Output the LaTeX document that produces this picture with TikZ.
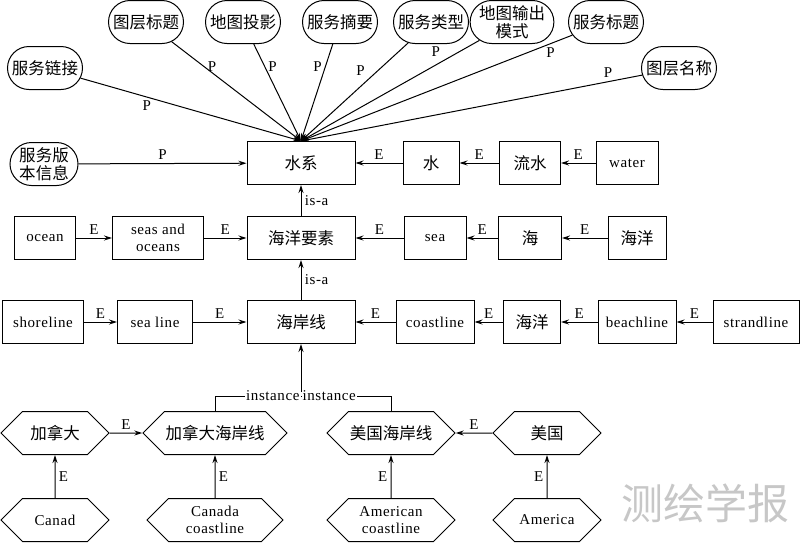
\documentclass[tikz,border=0pt]{standalone}
\usepackage{fontspec}
\setmainfont[LetterSpace=4]{Liberation Serif}
\newfontfamily\cjk{Noto Sans CJK SC}
\usetikzlibrary{shapes.misc,shapes.symbols,arrows.meta}
\begin{document}
\begin{tikzpicture}[>={Stealth[length=8pt,width=5pt]},x=1pt,y=-1pt,line width=1pt,font=\fontsize{15}{17}\selectfont,
	box/.style={draw,minimum height=43pt,inner sep=1pt,align=center},
	zh/.style={font=\cjk\fontsize{16.5}{18}\selectfont},
	oval/.style={draw,rounded rectangle,minimum width=77pt,minimum height=43pt,inner sep=1pt,align=center,zh},
	hexa/.style={draw,signal,signal to=west and east,minimum height=43pt,inner sep=1pt,align=center}]
			\useasboundingbox (0,0) rectangle (800,542);
			% properties of the water system
			\node[oval] (tcbt) at (146,22) {图层标题};
			\node[oval] (dtty) at (243,22) {地图投影};
			\node[oval] (fwzy) at (340,22) {服务摘要};
			\node[oval] (fwlx) at (431,22) {服务类型};
			\node[oval,minimum width=73pt] (dtsc) at (512,22) {地图输出\\模式};
			\node[oval] (fwbt) at (606,22) {服务标题};
			\node[oval] (tcmc) at (679,68) {图层名称};
			\node[oval] (fwlj) at (45,68) {服务链接};
			\node[oval,minimum width=70pt] (fwbb) at (44,164) {服务版\\本信息};
			% rows of concepts
			\node[box,zh,minimum width=108pt] (sx) at (301,163) {水系};
			\node[box,zh,minimum width=56pt] (shui) at (431,163) {水};
			\node[box,zh,minimum width=61pt] (lsh) at (530,163) {流水};
			\node[box,minimum width=62pt] (water) at (627,163) {water};
			\node[box,minimum width=61pt] (ocean) at (45,238) {ocean};
			\node[box,minimum width=91pt] (seas) at (158,238) {seas and\\oceans};
			\node[box,zh,minimum width=108pt] (hyys) at (301,238) {海洋要素};
			\node[box,minimum width=62pt] (sea) at (435,238) {sea};
			\node[box,zh,minimum width=63pt] (hai) at (530,238) {海};
			\node[box,zh,minimum width=58pt] (hy) at (637,238) {海洋};
			\node[box,minimum width=81pt] (shore) at (43,322) {shoreline};
			\node[box,minimum width=75pt] (sline) at (155,322) {sea line};
			\node[box,zh,minimum width=108pt] (haxx) at (301,322) {海岸线};
			\node[box,minimum width=78pt] (coast) at (435,322) {coastline};
			\node[box,zh,minimum width=57pt] (hyb) at (532,322) {海洋};
			\node[box,minimum width=78pt] (beach) at (637,322) {beachline};
			\node[box,minimum width=86pt] (strand) at (756,322) {strandline};
			% instances
			\node[hexa,zh,minimum width=108pt] (jnd) at (55,433) {加拿大};
			\node[hexa,zh,minimum width=136pt] (jhax) at (215,433) {加拿大海岸线};
			\node[hexa,zh,minimum width=128pt] (mhax) at (391,433) {美国海岸线};
			\node[hexa,zh,minimum width=108pt] (mg) at (547,433) {美国};
			\node[hexa,minimum width=108pt] (canad) at (55,520) {Canad};
			\node[hexa,minimum width=136pt] (ccoast) at (215,520) {Canada\\coastline};
			\node[hexa,minimum width=128pt] (acoast) at (391,520) {American\\coastline};
			\node[hexa,minimum width=108pt] (amer) at (547,520) {America};
			\coordinate (jn) at (301,396);
			% P links
			\draw[->] (tcbt) -- node[pos=0.25,right]{P} (sx.north);
			\draw[->] (dtty) -- node[pos=0.23,right]{P} (sx.north);
			\draw[->] (fwzy) -- node[pos=0.23,left]{P} (sx.north);
			\draw[->] (fwlx) -- node[pos=0.37,above left]{P} (sx.north);
			\draw[->] (dtsc) -- node[pos=0.2,above left]{P} (sx.north);
			\draw[->] (fwbt) -- node[pos=0.08,below]{P} (sx.north);
			\draw[->] (tcmc) -- node[pos=0.1,above]{P} (sx.north);
			\draw[->] (fwlj) -- node[pos=0.3,below]{P} (sx.north);
			\draw[->] (fwbb) -- node[above]{P} (sx);
			% E links
			\draw[->] (shui) -- node[above]{E} (sx);
			\draw[->] (lsh) -- node[above]{E} (shui);
			\draw[->] (water) -- node[above]{E} (lsh);
			\draw[->] (ocean) -- node[above]{E} (seas);
			\draw[->] (seas) -- node[above]{E} (hyys);
			\draw[->] (sea) -- node[above]{E} (hyys);
			\draw[->] (hai) -- node[above]{E} (sea);
			\draw[->] (hy) -- node[above]{E} (hai);
			\draw[->] (shore) -- node[above]{E} (sline);
			\draw[->] (sline) -- node[above]{E} (haxx);
			\draw[->] (coast) -- node[above]{E} (haxx);
			\draw[->] (hyb) -- node[above]{E} (coast);
			\draw[->] (beach) -- node[above]{E} (hyb);
			\draw[->] (strand) -- node[above]{E} (beach);
			\draw[->] (hyys) -- node[right]{is-a} (sx);
			\draw[->] (haxx) -- node[right]{is-a} (hyys);
			\draw (jhax.north) |- node[pos=1,left,fill=white,inner sep=1pt]{instance} (jn);
			\draw (mhax.north) |- node[pos=1,right,fill=white,inner sep=1pt]{instance} (jn);
			\draw[->] ([yshift=4pt]jn) -- (haxx);
			\draw[->] (jnd) -- node[above]{E} (jhax);
			\draw[->] (mg) -- node[above]{E} (mhax);
			\draw[->] (canad) -- node[right]{E} (jnd);
			\draw[->] (ccoast) -- node[right]{E} (jhax);
			\draw[->] (acoast) -- node[left]{E} (mhax);
			\draw[->] (amer) -- node[left]{E} (mg);
			\node[text=black!22,font=\cjk\fontsize{42}{42}\selectfont] (wm) at (705,503) {测绘学报};
		\end{tikzpicture}
\end{document}
